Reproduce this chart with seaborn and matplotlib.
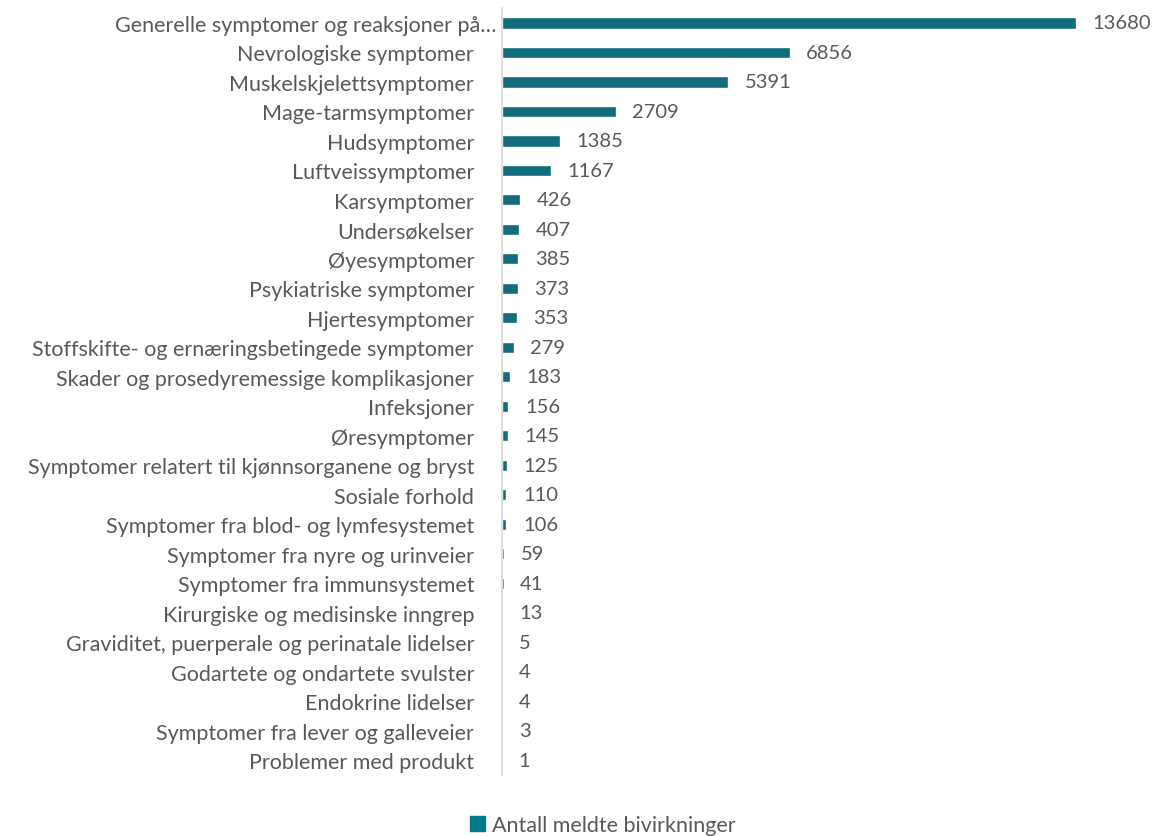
import matplotlib
matplotlib.use("Agg")
import matplotlib.pyplot as plt
import matplotlib.transforms as mtransforms
import seaborn as sns
import pandas as pd

# Data
categories = [
    "Generelle symptomer og reaksjoner på…",
    "Nevrologiske symptomer",
    "Muskelskjelettsymptomer",
    "Mage-tarmsymptomer",
    "Hudsymptomer",
    "Luftveissymptomer",
    "Karsymptomer",
    "Undersøkelser",
    "Øyesymptomer",
    "Psykiatriske symptomer",
    "Hjertesymptomer",
    "Stoffskifte- og ernæringsbetingede symptomer",
    "Skader og prosedyremessige komplikasjoner",
    "Infeksjoner",
    "Øresymptomer",
    "Symptomer relatert til kjønnsorganene og bryst",
    "Sosiale forhold",
    "Symptomer fra blod- og lymfesystemet",
    "Symptomer fra nyre og urinveier",
    "Symptomer fra immunsystemet",
    "Kirurgiske og medisinske inngrep",
    "Graviditet, puerperale og perinatale lidelser",
    "Godartete og ondartete svulster",
    "Endokrine lidelser",
    "Symptomer fra lever og galleveier",
    "Problemer med produkt",
]
values = [13680, 6856, 5391, 2709, 1385, 1167, 426, 407, 385, 373, 353, 279,
          183, 156, 145, 125, 110, 106, 59, 41, 13, 5, 4, 4, 3, 1]
series_name = "Antall meldte bivirkninger"

df = pd.DataFrame({"Kategori": categories, "Antall": values, "Serie": series_name})

sns.set_style("white")
plt.rcParams["font.family"] = ["Lato", "DejaVu Sans"]

bar_color = "#007A8A"
text_color = "#595959"

fig = plt.figure(figsize=(11.59, 8.37), dpi=100)
ax = fig.add_axes([0.433, 0.073, 0.507, 0.916])

sns.barplot(data=df, y="Kategori", x="Antall", hue="Serie", palette=[bar_color],
            width=0.38, ax=ax, orient="h", legend=False)

ax.set_xlim(0, 14000)
ax.set_xlabel("")
ax.set_ylabel("")
ax.set_xticks([])
for s in ["top", "right", "bottom"]:
    ax.spines[s].set_visible(False)
ax.spines["left"].set_color("#d9d9d9")
ax.spines["left"].set_linewidth(1.2)
ax.tick_params(axis="y", length=0, pad=20, labelsize=15.5, labelcolor=text_color)

# the truncated first label sits closer to the axis
first = ax.get_yticklabels()[0]
first.set_transform(first.get_transform() +
                    mtransforms.ScaledTranslation(0.22, 0, fig.dpi_scale_trans))

# value labels
for i, v in enumerate(values):
    ax.annotate(str(v), xy=(v, i), xytext=(12, 0), textcoords="offset points",
                va="center", ha="left", fontsize=14.5, color=text_color)

# legend
handle = plt.Rectangle((0, 0), 1, 1, color=bar_color)
fig.legend([handle], [series_name], loc="center", bbox_to_anchor=(0.52, 0.013),
           frameon=False, fontsize=15.5, labelcolor=text_color,
           handlelength=0.7, handleheight=0.7, handletextpad=0.3)

fig.savefig("out.png", dpi=100)
